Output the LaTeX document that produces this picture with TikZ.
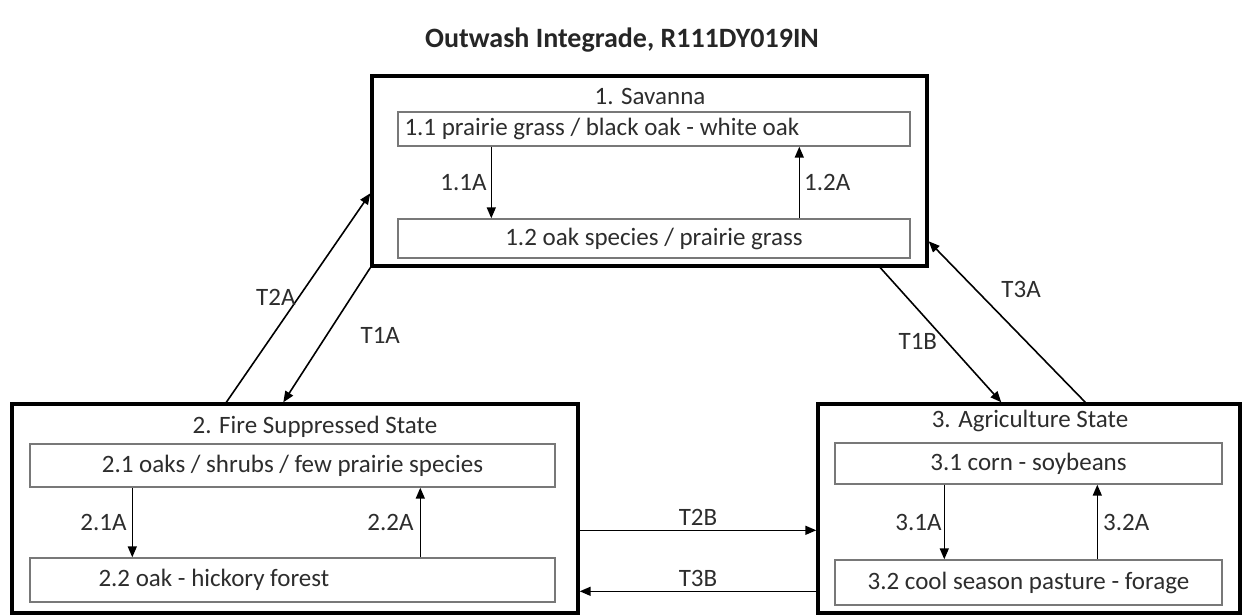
\documentclass[tikz,border=0pt]{standalone}
\usepackage{fontspec}
\setmainfont{Carlito}
\usetikzlibrary{arrows.meta,positioning}
\definecolor{rahmengrau}{RGB}{120,120,120}
\definecolor{textgrau}{RGB}{45,45,45}

\begin{document}
\begin{tikzpicture}[x=1pt,y=-1pt,
  font=\fontsize{25}{29}\selectfont,
  zustand/.style={draw=black,line width=3.4pt,inner sep=0pt},
  phase/.style={draw=rahmengrau,line width=1.4pt,text=textgrau,inner sep=0pt},
  titel/.style={text=textgrau,inner sep=1pt},
  pfeil/.style={line width=1.6pt,-{Triangle[length=11pt,width=9pt]}},
  marke/.style={text=textgrau,inner sep=1pt}]
  \useasboundingbox[fill=white] (0,0) rectangle (1244,614);
  % Titel
  \node[font=\fontsize{28}{33}\selectfont\bfseries,text=black!85] (kopf) at (622,40) {Outwash Integrade, R111DY019IN};
  % Zustaende
  \node[zustand,minimum width=555pt,minimum height=190pt] (s1) at (649.5,171) {};
  \node[zustand,minimum width=566pt,minimum height=209pt] (s2) at (295,508.5) {};
  \node[zustand,minimum width=422pt,minimum height=209pt] (s3) at (1029,508.5) {};
  \node[titel] (t1) at (650,96) {1. Savanna};
  \node[titel] (t2) at (315,427) {2. Fire Suppressed State};
  \node[titel] (t3) at (1030,421) {3. Agriculture State};
  % Phasen
  \node[phase,minimum width=512pt,minimum height=34pt] (c11) at (654,129) {};
  \node[marke,right=6pt of c11.west] (p11) {1.1 prairie grass / black oak - white oak};
  \node[phase,minimum width=512pt,minimum height=39pt] (c12) at (654,238.5) {1.2 oak species / prairie grass};
  \node[phase,minimum width=525pt,minimum height=43pt] (c21) at (292.5,465.5) {2.1 oaks / shrubs / few prairie species};
  \node[phase,minimum width=525pt,minimum height=44pt] (c22) at (292.5,580) {};
  \node[marke,right=68pt of c22.west] (p22) {2.2 oak - hickory forest};
  \node[phase,minimum width=387pt,minimum height=41pt] (c31) at (1028.5,463.5) {3.1 corn - soybeans};
  \node[phase,minimum width=387pt,minimum height=45pt] (c32) at (1028.5,582.5) {3.2 cool season pasture - forage};
  % Uebergaenge innerhalb der Zustaende
  \draw[pfeil] ([xshift=94pt]c11.south west) -- ([xshift=94pt]c12.north west) node[marke,midway,left=3pt] (l11) {1.1A};
  \draw[pfeil] ([xshift=402pt]c12.north west) -- ([xshift=402pt]c11.south west) node[marke,midway,right=3pt] (l12) {1.2A};
  \draw[pfeil] ([xshift=103pt]c21.south west) -- ([xshift=103pt]c22.north west) node[marke,midway,left=4pt] (l21) {2.1A};
  \draw[pfeil] ([xshift=391pt]c22.north west) -- ([xshift=391pt]c21.south west) node[marke,midway,left=5pt] (l22) {2.2A};
  \draw[pfeil] ([xshift=110pt]c31.south west) -- ([xshift=110pt]c32.north west) node[marke,midway,left=1pt] (l31) {3.1A};
  \draw[pfeil] ([xshift=263pt]c32.north west) -- ([xshift=263pt]c31.south west) node[marke,midway,right=4pt] (l32) {3.2A};
  % Uebergaenge zwischen den Zustaenden
  \draw[pfeil] ([xshift=216pt]s2.north west) -- ([yshift=-119pt]s1.north west) node[marke,pos=0.5,left=1pt] (lT2A) {T2A};
  \draw[pfeil] (s1.south west) -- ([xshift=273pt]s2.north west) node[marke,pos=0.5,right=32pt] (lT1A) {T1A};
  \draw[pfeil] ([xshift=510pt]s1.south west) -- ([xshift=185pt]s3.north west) node[marke,pos=0.55,left=8pt] (lT1B) {T1B};
  \draw[pfeil] ([xshift=269pt]s3.north west) -- ([yshift=-167pt]s1.north east) node[marke,pos=0.7,right=24pt] (lT3A) {T3A};
  \draw[pfeil] ([yshift=-128pt]s2.north east) -- ([yshift=-128pt]s3.north west) node[marke,midway,above=3pt] (lT2B) {T2B};
  \draw[pfeil] ([yshift=-189pt]s3.north west) -- ([yshift=-189pt]s2.north east) node[marke,midway,above=3pt] (lT3B) {T3B};
\end{tikzpicture}
\end{document}
